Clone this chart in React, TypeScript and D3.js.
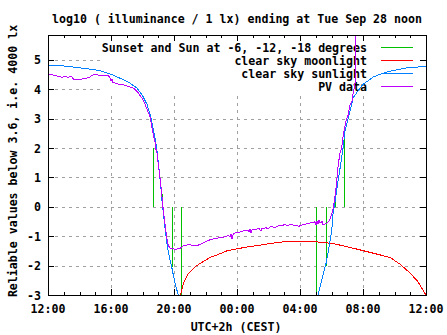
import React from "react";
import * as d3 from "d3";

// hours elapsed since 12:00 (Mon) -> log10 illuminance
const sunlight: [number, number][] = [
  [0, 4.8], [0.952, 4.8], [2.222, 4.72], [3.302, 4.64], [4.063, 4.5], [4.571, 4.38],
  [5.206, 4.21], [5.651, 4.04], [5.968, 3.82], [6.286, 3.49], [6.54, 3.03], [6.794, 2.35],
  [6.921, 1.9], [7.048, 1.3], [7.143, 0.8], [7.238, 0.2], [7.365, -0.4], [7.46, -0.85],
  [7.556, -1.25], [7.683, -1.65], [7.859, -2.06], [7.968, -2.35], [8.063, -2.6],
  [8.273, -3.0], [8.381, -3.2],
];
const sunlightMorning: [number, number][] = [
  [17.016, -3.3], [17.143, -3.0], [17.378, -2.5], [17.651, -1.93], [17.841, -1.38],
  [18.013, -0.81], [18.095, -0.25], [18.267, 0.32], [18.413, 0.88], [18.584, 1.45],
  [18.73, 2.0], [18.857, 2.58], [19.111, 3.14], [19.283, 3.49], [19.365, 3.7],
  [19.683, 3.95], [20.0, 4.17], [20.654, 4.42], [21.079, 4.51], [21.714, 4.62],
  [22.775, 4.73], [24.0, 4.78],
];
const moonlight: [number, number][] = [
  [8.381, -3.1], [8.444, -2.95], [8.59, -2.62], [8.908, -2.27], [9.441, -2.0],
  [10.286, -1.72], [10.711, -1.64], [11.346, -1.5], [11.765, -1.45], [12.717, -1.36],
  [13.251, -1.32], [14.095, -1.25], [14.94, -1.19], [16.0, -1.18], [17.06, -1.19],
  [18.114, -1.25], [19.175, -1.38], [20.0, -1.49], [21.714, -1.72], [22.349, -1.95],
  [22.984, -2.25], [23.492, -2.55], [23.937, -2.95], [24.0, -3.05],
];
// sunset/sunrise and -6, -12, -18 degree events: [hour, clear-sky value]
const sunEvents: [number, number][] = [
  [6.686, 2.0], [7.219, 0.45], [7.857, -2.05], [8.46, -3.1],
  [17.016, -3.1], [17.651, -2.0], [18.222, 0.35], [18.794, 2.55],
];
const pvData: [number, number][] = [
  [0, 4.47], [0.127, 4.5], [0.317, 4.49], [0.508, 4.47], [0.635, 4.43], [0.762, 4.45],
  [0.889, 4.4], [0.971, 4.43], [1.143, 4.44], [1.27, 4.41], [1.397, 4.44], [1.524, 4.42],
  [1.651, 4.33], [1.778, 4.32], [1.905, 4.35], [2.032, 4.34], [2.222, 4.36], [2.413, 4.37],
  [2.54, 4.4], [2.667, 4.42], [2.794, 4.48], [2.921, 4.5], [3.111, 4.49], [3.302, 4.48],
  [3.556, 4.47], [3.81, 4.47], [3.937, 4.4], [4.0, 4.3], [4.063, 4.34], [4.127, 4.22],
  [4.19, 4.25], [4.317, 4.19], [4.444, 4.18], [4.571, 4.17], [4.762, 4.16], [4.952, 4.12],
  [5.079, 4.1], [5.27, 4.07], [5.397, 4.04], [5.524, 4.0], [5.651, 3.93], [5.778, 3.85],
  [5.905, 3.74], [6.032, 3.65], [6.159, 3.5], [6.286, 3.32], [6.381, 3.2], [6.476, 3.05],
  [6.54, 2.88], [6.603, 2.7], [6.686, 2.45], [6.794, 2.2], [6.857, 1.95], [6.921, 1.85],
  [7.003, 1.45], [7.111, 1.0], [7.219, 0.45], [7.321, -0.12], [7.429, -0.58], [7.537, -1.04],
  [7.638, -1.32], [7.746, -1.4], [7.873, -1.42], [8.063, -1.44], [8.254, -1.43], [8.381, -1.41],
  [8.59, -1.33], [8.762, -1.3], [9.016, -1.29], [9.206, -1.31], [9.441, -1.33], [9.587, -1.29],
  [9.759, -1.25], [9.905, -1.22], [10.076, -1.17], [10.286, -1.12], [10.476, -1.09],
  [10.711, -1.07], [10.921, -1.05], [11.13, -1.03], [11.302, -1.01], [11.448, -0.97],
  [11.556, -1.02], [11.619, -0.92], [11.683, -1.08], [11.746, -0.95], [11.81, -0.9],
  [11.981, -0.87], [12.127, -0.88], [12.254, -0.84], [12.4, -0.82], [12.571, -0.8],
  [12.698, -0.79], [12.762, -0.86], [12.825, -0.77], [12.889, -0.9], [12.952, -0.78],
  [13.079, -0.76], [13.251, -0.76], [13.397, -0.74], [13.524, -0.82], [13.587, -0.72],
  [13.67, -0.74], [13.841, -0.7], [13.968, -0.76], [14.095, -0.68], [14.286, -0.68],
  [14.413, -0.72], [14.521, -0.66], [14.73, -0.64], [14.94, -0.62], [15.048, -0.58],
  [15.175, -0.64], [15.365, -0.6], [15.556, -0.62], [15.79, -0.64], [15.937, -0.66],
  [16.108, -0.62], [16.254, -0.6], [16.425, -0.58], [16.571, -0.56], [16.698, -0.54],
  [16.844, -0.55], [16.952, -0.5], [17.016, -0.62], [17.079, -0.48], [17.143, -0.58],
  [17.206, -0.46], [17.27, -0.55], [17.397, -0.5], [17.46, -0.6], [17.587, -0.58],
  [17.714, -0.56], [17.841, -0.48], [17.905, -0.42], [18.0, -0.28], [18.076, -0.14],
  [18.178, 0.2], [18.267, 0.54], [18.33, 0.88], [18.432, 1.45], [18.54, 1.84],
  [18.648, 2.01], [18.749, 2.46], [18.921, 2.92], [19.067, 3.14], [19.175, 3.48],
  [19.302, 3.6], [19.397, 3.95], [19.492, 4.1], [19.524, 6.5],
];

const xTickHours = [0, 4, 8, 12, 16, 20, 24];
const xTickLabels = ["12:00", "16:00", "20:00", "00:00", "04:00", "08:00", "12:00"];
const yTicks = [-3, -2, -1, 0, 1, 2, 3, 4, 5];
const legendLabels = [
  "Sunset and Sun at -6, -12, -18 degrees",
  "clear sky moonlight",
  "clear sky sunlight",
  "PV data",
];
const seriesColors = ["#00c000", "#ff0000", "#0080ff", "#c000ff"];
const title = "log10 ( illuminance / 1 lx) ending at Tue Sep 28 noon";
const xTitle = "UTC+2h (CEST)";
const yTitle = "Reliable values below 3.6, i.e. 4000 lx";

const W = 447, H = 335;
const L = 48, R = 426, T = 35, B = 295;
const FONT = "'DejaVu Sans Mono', monospace";
const FS = 11.6;

export default function App() {
  const x = d3.scaleLinear().domain([0, 24]).range([L, R]);
  const y = d3.scaleLinear().domain([-3, 5.85]).range([B, T]);
  const line = d3.line<[number, number]>().x((d) => x(d[0])).y((d) => y(d[1]));
  const vline = d3
    .line<[number, number]>()
    .x((d) => Math.round(x(d[0])) + 0.5)
    .y((d) => y(d[1]));
  const minor = d3.range(0, 25, 1).filter((h) => h % 4 !== 0);

  const legendY = [47, 60, 73, 86];

  return (
    <svg
      width={W}
      height={H}
      style={{ position: "absolute", left: 0, top: 0, background: "#fff" }}
      fontFamily={FONT}
      fontSize={FS}
      fontWeight="bold"
    >
      <defs>
        <clipPath id="plot">
          <rect x={L} y={T} width={R - L} height={B - T} />
        </clipPath>
      </defs>
      <rect x={0} y={0} width={W} height={H} fill="#fff" />
      {/* grid */}
      <g stroke="#a0a0a0" strokeDasharray="3,4" shapeRendering="crispEdges">
        {xTickHours.slice(1, -1).map((h) => (
          <line key={"gx" + h} x1={Math.round(x(h)) + 0.5} x2={Math.round(x(h)) + 0.5} y1={B} y2={T} />
        ))}
        {yTicks.slice(1).map((v) => (
          <line key={"gy" + v} x1={L} x2={R} y1={Math.round(y(v)) + 0.5} y2={Math.round(y(v)) + 0.5} />
        ))}
      </g>
      {/* key area blocks grid */}
      <rect x={100} y={T + 1} width={R - 100 - 1} height={92 - T} fill="#fff" />
      {/* legend */}
      <g>
        {legendLabels.map((lab, i) => (
          <g key={lab}>
            <text x={367} y={legendY[i] + 4.5} textAnchor="end" fill="#000">
              {lab}
            </text>
            <line
              x1={381}
              x2={413}
              y1={legendY[i] + 0.5}
              y2={legendY[i] + 0.5}
              stroke={seriesColors[i]}
              shapeRendering="crispEdges"
            />
          </g>
        ))}
      </g>
      {/* data */}
      <g clipPath="url(#plot)" fill="none" strokeWidth={1} shapeRendering="crispEdges">
        {sunEvents.map((e, i) => (
          <path key={"ev" + i} d={vline([[e[0], 0], [e[0], e[1]]]) || ""} stroke={seriesColors[0]} />
        ))}
        <path d={line(moonlight) || ""} stroke={seriesColors[1]} />
        <path d={line(sunlight) || ""} stroke={seriesColors[2]} />
        <path d={line(sunlightMorning) || ""} stroke={seriesColors[2]} />
        <path d={line(pvData) || ""} stroke={seriesColors[3]} />
      </g>
      {/* border and ticks */}
      <g stroke="#000" shapeRendering="crispEdges">
        <rect x={L + 0.5} y={T + 0.5} width={R - L} height={B - T} fill="none" />
        {xTickHours.map((h) => (
          <g key={"tx" + h}>
            <line x1={Math.round(x(h)) + 0.5} x2={Math.round(x(h)) + 0.5} y1={B} y2={B - 6} />
            <line x1={Math.round(x(h)) + 0.5} x2={Math.round(x(h)) + 0.5} y1={T} y2={T + 6} />
          </g>
        ))}
        {minor.map((h) => (
          <g key={"mx" + h}>
            <line x1={Math.round(x(h)) + 0.5} x2={Math.round(x(h)) + 0.5} y1={B} y2={B - 3} />
            <line x1={Math.round(x(h)) + 0.5} x2={Math.round(x(h)) + 0.5} y1={T} y2={T + 3} />
          </g>
        ))}
        {yTicks.map((v) => (
          <g key={"ty" + v}>
            <line x1={L} x2={L + 6} y1={Math.round(y(v)) + 0.5} y2={Math.round(y(v)) + 0.5} />
            <line x1={R} x2={R - 6} y1={Math.round(y(v)) + 0.5} y2={Math.round(y(v)) + 0.5} />
          </g>
        ))}
      </g>
      {/* tick labels */}
      <g fill="#000">
        {xTickHours.map((h, i) => (
          <text key={"lx" + i} x={x(h)} y={313} textAnchor="middle">
            {xTickLabels[i]}
          </text>
        ))}
        {yTicks.map((v) => (
          <text key={"ly" + v} x={41} y={y(v) + 4.5} textAnchor="end">
            {String(v)}
          </text>
        ))}
        <text x={237} y={23} textAnchor="middle">{title}</text>
        <text x={236} y={331} textAnchor="middle">{xTitle}</text>
        <text x={0} y={0} textAnchor="middle" transform={`translate(17,161) rotate(-90)`}>
          {yTitle}
        </text>
      </g>
    </svg>
  );
}
